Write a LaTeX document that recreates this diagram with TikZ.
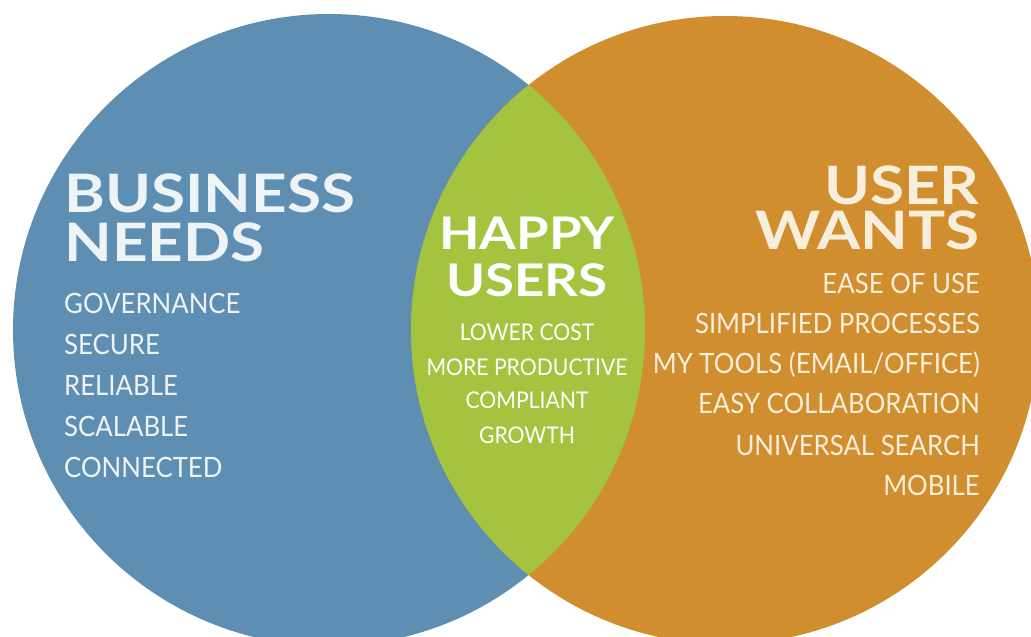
\documentclass[tikz,border=0pt]{standalone}
\usepackage{fontspec}
\setmainfont{Lato}
\newfontfamily\headfont[FakeStretch=1.17]{Lato}
\newfontfamily\bodyfont[FakeStretch=0.92]{Lato}
\definecolor{needsblue}{HTML}{5E8FB3}
\definecolor{wantsorange}{HTML}{D18E2E}
\definecolor{happygreen}{HTML}{A4C43F}
\definecolor{bluetext}{HTML}{EEF3F6}
\definecolor{orangetext}{HTML}{F7EEDC}
\tikzset{
  heading/.style={inner sep=0pt, text depth=0pt},
  item/.style={inner sep=0pt, font=\bodyfont\fontsize{28}{28}\selectfont},
  centeritem/.style={inner sep=0pt, font=\bodyfont\fontsize{23}{23}\selectfont, text=white, anchor=base},
  lefttext/.style={text=bluetext, anchor=base west},
  righttext/.style={text=orangetext, anchor=base east}
}
\begin{document}
\begin{tikzpicture}[x=1pt,y=-1pt]
  \useasboundingbox[fill=white] (0,0) rectangle (1031,637);
  % the two sets
  \fill[needsblue] (329,330) circle[radius=316pt];
  \fill[wantsorange] (725,330) circle[radius=314pt];
  % their overlap
  \begin{scope}
    \clip (329,330) circle[radius=316pt];
    \fill[happygreen] (725,330) circle[radius=314pt];
  \end{scope}

  % business needs
  \node[heading, text=bluetext, anchor=south west, align=left,
        font=\headfont\fontsize{53}{49}\selectfont\bfseries] (bn) at (64,262) {BUSINESS\\NEEDS};
  \node[item, lefttext] (g) at (64,313) {GOVERNANCE};
  \node[item, lefttext] (s) at (64,354) {SECURE};
  \node[item, lefttext] (r) at (64,395) {RELIABLE};
  \node[item, lefttext] (sc) at (64,436) {SCALABLE};
  \node[item, lefttext] (c) at (64,477) {CONNECTED};

  % happy users
  \node[heading, text=white, anchor=south, align=center,
        font=\headfont\fontsize{45}{47}\selectfont\bfseries] (hu) at (527,297) {HAPPY\\USERS};
  \node[centeritem] (lc) at (527,340) {LOWER COST};
  \node[centeritem] (mp) at (527,375) {MORE PRODUCTIVE};
  \node[centeritem] (cp) at (527,408) {COMPLIANT};
  \node[centeritem] (gr) at (527,443) {GROWTH};

  % user wants
  \node[heading, text=orangetext, anchor=south east, align=right,
        font=\headfont\fontsize{53}{45}\selectfont\bfseries] (uw) at (980,250) {USER\\WANTS};
  \node[item, righttext] (eu) at (980,293) {EASE OF USE};
  \node[item, righttext] (sp) at (980,333) {SIMPLIFIED PROCESSES};
  \node[item, righttext] (mt) at (980,373) {MY TOOLS (EMAIL/OFFICE)};
  \node[item, righttext] (ec) at (980,413) {EASY COLLABORATION};
  \node[item, righttext] (us) at (980,455) {UNIVERSAL SEARCH};
  \node[item, righttext] (mo) at (980,495) {MOBILE};
\end{tikzpicture}
\end{document}
